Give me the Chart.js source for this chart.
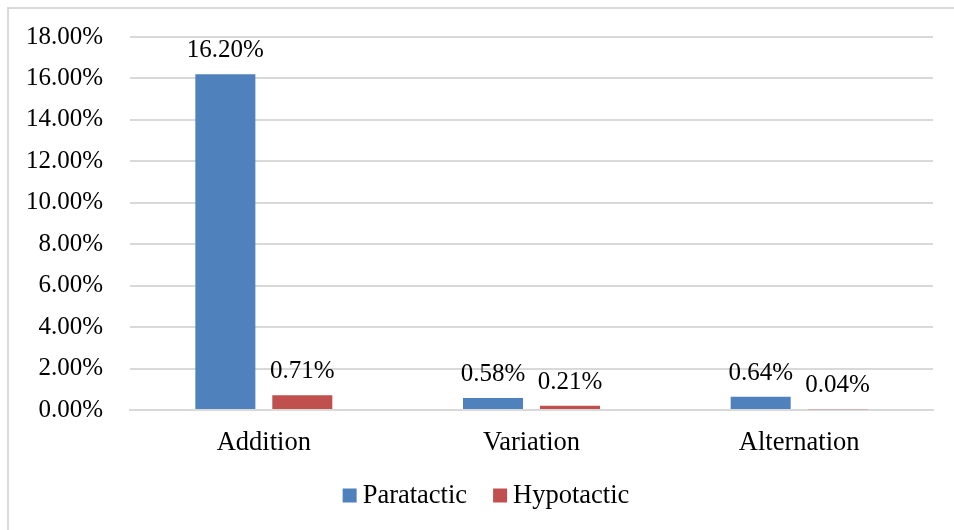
<!DOCTYPE html>
<html>
<head>
<meta charset="utf-8">
<script src="https://cdn.jsdelivr.net/npm/chart.js@4/dist/chart.umd.min.js"></script>
<style>
  html, body { margin: 0; padding: 0; background: #fff; }
  #wrap { position: relative; width: 954px; height: 530px; overflow: hidden; }
  #frame { position: absolute; left: 7px; top: 7px; width: 980px; height: 560px;
           border: 2px solid #d9d9d9; box-sizing: border-box; pointer-events: none; }
  canvas { position: absolute; left: 0; top: 0; }
</style>
</head>
<body>
<div id="wrap">
  <canvas id="c" width="954" height="530"></canvas>
  <div id="frame"></div>
</div>
<script>
// Share of clause-complex relations by type
const categories = ['Addition', 'Variation', 'Alternation'];
const seriesNames = ['Paratactic', 'Hypotactic'];
const paratactic = [16.20, 0.58, 0.64];
const hypotactic = [0.71, 0.21, 0.04];
const yTicks = [0, 2, 4, 6, 8, 10, 12, 14, 16, 18];

const FONT = '"Liberation Serif", "Times New Roman", Times, serif';
const SIZE_NUM = 25;    // tick and value labels
const SIZE_TEXT = 26.5; // category names and legend
const BLUE = '#4F81BD';
const RED = '#C0504D';

// value labels above each bar
const valueLabels = {
  id: 'valueLabels',
  afterDatasetsDraw(chart) {
    const ctx = chart.ctx;
    ctx.save();
    ctx.font = SIZE_NUM + 'px ' + FONT;
    ctx.fillStyle = '#000';
    ctx.textAlign = 'center';
    ctx.textBaseline = 'alphabetic';
    chart.data.datasets.forEach((ds, i) => {
      chart.getDatasetMeta(i).data.forEach((bar, j) => {
        ctx.fillText(ds.data[j].toFixed(2) + '%', bar.x, bar.y - 17);
      });
    });
    ctx.restore();
  }
};

// legend row under the axis labels
const bottomLegend = {
  id: 'bottomLegend',
  afterDraw(chart) {
    const ctx = chart.ctx;
    ctx.save();
    ctx.font = SIZE_TEXT + 'px ' + FONT;
    ctx.textBaseline = 'middle';
    ctx.textAlign = 'left';
    const box = 14, gapText = 6, gapItem = 26;
    const items = chart.data.datasets.map(ds => ({ label: ds.label, color: ds.backgroundColor }));
    let total = 0;
    items.forEach((it, k) => {
      it.w = ctx.measureText(it.label).width;
      total += box + gapText + it.w + (k < items.length - 1 ? gapItem : 0);
    });
    let x = 486 - total / 2;
    const yMid = 496;
    items.forEach(it => {
      ctx.fillStyle = it.color;
      ctx.fillRect(x, yMid - box / 2 - 0.5, box, box);
      x += box + gapText;
      ctx.fillStyle = '#000';
      ctx.fillText(it.label, x, yMid);
      x += it.w + gapItem;
    });
    ctx.restore();
  }
};

new Chart(document.getElementById('c'), {
  type: 'bar',
  data: {
    labels: categories,
    datasets: [
      { label: seriesNames[0], data: paratactic, backgroundColor: BLUE,
        categoryPercentage: 0.575, barPercentage: 0.78 },
      { label: seriesNames[1], data: hypotactic, backgroundColor: RED,
        categoryPercentage: 0.575, barPercentage: 0.78 }
    ]
  },
  options: {
    responsive: false,
    animation: false,
    layout: { padding: { left: 0, right: 21, top: 37, bottom: 0 } },
    plugins: {
      legend: { display: false },
      tooltip: { enabled: false }
    },
    scales: {
      x: {
        grid: { display: false, drawTicks: false },
        border: { display: true, color: '#d9d9d9', width: 2 },
        ticks: { color: '#000', font: { family: FONT, size: SIZE_TEXT }, padding: 17 },
        afterFit(scale) { scale.height = 120; }
      },
      y: {
        min: 0,
        max: 18,
        afterBuildTicks(scale) { scale.ticks = yTicks.map(v => ({ value: v })); },
        grid: { color: '#d9d9d9', lineWidth: 2, drawTicks: false },
        border: { display: false },
        ticks: {
          color: '#000',
          font: { family: FONT, size: SIZE_NUM },
          padding: 27,
          callback: v => Number(v).toFixed(2) + '%'
        },
        afterFit(scale) {
          scale.width = 130;
          scale.paddingTop = 0;
          scale.paddingBottom = 0;
        }
      }
    }
  },
  plugins: [valueLabels, bottomLegend]
});
</script>
</body>
</html>
